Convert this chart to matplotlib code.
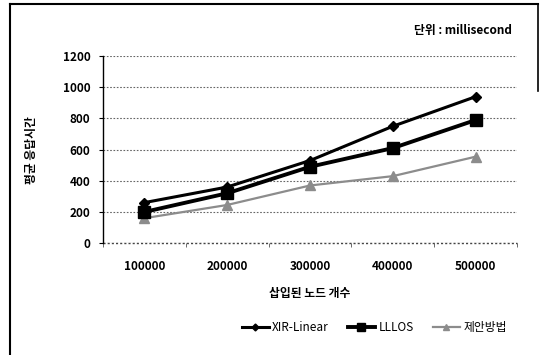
import matplotlib
matplotlib.use("Agg")
import matplotlib.pyplot as plt
from matplotlib.lines import Line2D

plt.rcParams['font.family'] = ['Noto Sans CJK KR', 'DejaVu Sans']

categories = ["100000", "200000", "300000", "400000", "500000"]
xir_linear = [260, 360, 530, 750, 940]
lllos = [200, 320, 490, 610, 790]
proposed = [160, 245, 370, 430, 555]
series_names = ["XIR-Linear", "LLLOS", "제안방법"]
yticks = [0, 200, 400, 600, 800, 1000, 1200]

fig = plt.figure(figsize=(5.41, 3.55), dpi=100)
ax = fig.add_axes([0.190, 0.315, 0.766, 0.527])

x = list(range(len(categories)))
ax.plot(x, xir_linear, color='black', lw=2.2, marker='D', ms=5, label=series_names[0], clip_on=False, zorder=4)
ax.plot(x, lllos, color='black', lw=2.8, marker='s', ms=8, label=series_names[1], clip_on=False, zorder=4)
ax.plot(x, proposed, color='#8c8c8c', lw=1.6, marker='^', ms=7, label=series_names[2], clip_on=False, zorder=3)

ax.set_xlim(-0.5, len(categories) - 0.5)
ax.set_ylim(0, 1200)
ax.set_yticks(yticks)
ax.set_yticklabels([str(v) for v in yticks], fontsize=8.5, fontweight='bold')
ax.set_xticks(x)
ax.set_xticklabels(categories, fontsize=8.5, fontweight='bold')
ax.set_xticks([i - 0.5 for i in range(len(categories) + 1)], minor=True)
ax.tick_params(axis='x', which='major', length=0, pad=12)
ax.tick_params(axis='x', which='minor', length=3, direction='out', color='#555555')
ax.tick_params(axis='y', length=3, direction='out', pad=6)

for s in ['top', 'right', 'bottom']:
    ax.spines[s].set_visible(False)
ax.spines['left'].set_color('black')
ax.spines['left'].set_linewidth(1.0)
ax.yaxis.grid(True, linestyle=(0, (1.5, 1.5)), color='#666666', lw=0.8)
ax.axhline(0, linestyle=(0, (1.5, 1.5)), color='#444444', lw=1.0, clip_on=False, zorder=1)
ax.set_axisbelow(True)

ax.set_xlabel("삽입된 노드 개수", fontsize=8.5, fontweight='bold', labelpad=10)
ax.set_ylabel("평균 응답시간", fontsize=8.5, fontweight='bold', labelpad=18)

fig.text(0.946, 0.915, "단위 : millisecond", fontsize=8.5, fontweight='bold', ha='right', va='center')

ax.legend(loc='upper center', bbox_to_anchor=(0.655, -0.36), ncol=3, frameon=False,
          fontsize=8.5, handlelength=2.3, columnspacing=1.6, handletextpad=0.3, markerscale=0.7)

# frame of the scanned figure
fig.add_artist(Line2D([0.019, 0.019], [0.0, 0.988], color='black', lw=1.5, transform=fig.transFigure))
fig.add_artist(Line2D([0.019, 0.995], [0.988, 0.988], color='black', lw=1.5, transform=fig.transFigure))
fig.add_artist(Line2D([0.994, 0.994], [0.745, 0.988], color='black', lw=1.2, transform=fig.transFigure))

fig.savefig("out.png", dpi=100)
